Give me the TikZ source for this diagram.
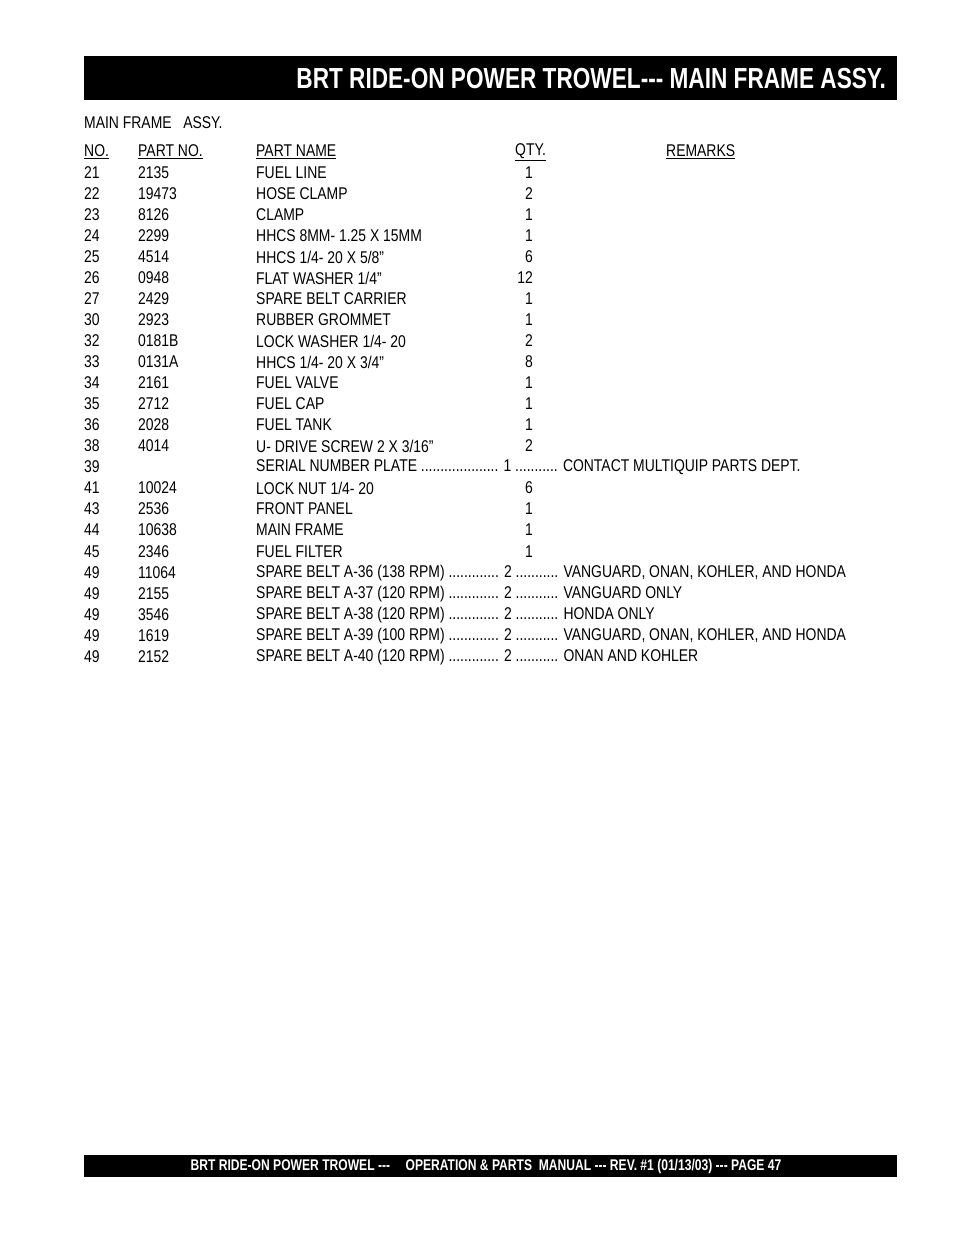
\documentclass[tikz,border=0pt]{standalone}
\usepackage{fontspec}
\setmainfont{Liberation Sans}[FakeStretch=0.82]
\newfontfamily\boldc{Liberation Sans}[FakeStretch=0.78,UprightFont=* Bold]
\newcounter{rw}
\newcommand{\prow}[5]{%
\stepcounter{rw}%
\node[txt] (n\therw) at (84,#1) {#2};
\node[txt] (p\therw) at (138,#1) {#3};
\node[txt] (m\therw) at (256,#1) {#4};
\node[txt,anchor=east] (q\therw) at (533,#1) {#5};}
\begin{document}
\begin{tikzpicture}[x=1pt,y=-1pt,txt/.style={anchor=west,inner sep=0pt,font=\fontsize{17}{17}\selectfont}]
\useasboundingbox (0,0) rectangle (954,1235);
\fill[black] (84,56) rectangle (897,100);
\node[text=white,anchor=east,inner sep=0pt,font=\boldc\fontsize{29}{29}\selectfont] (title) at (886,79) {BRT RIDE-ON POWER TROWEL--- MAIN FRAME ASSY.};
\fill[black] (84,1155) rectangle (897,1177);
\node[text=white,inner sep=0pt,font=\boldc\fontsize{15.5}{16}\selectfont] (foot) at (486,1166) {BRT RIDE-ON POWER TROWEL ---\quad OPERATION \& PARTS\ \ MANUAL --- REV. \#1 (01/13/03) --- PAGE 47};
\node[txt] (sub) at (84,123) {MAIN FRAME\ \ \ ASSY.};
\node[txt] (h1) at (84,152) {\underline{NO.}};
\node[txt] (h2) at (138,152) {\underline{PART NO.}};
\node[txt] (h3) at (256,152) {\underline{PART NAME}};
\node[txt] (h4) at (515,152) {\underline{QTY.}};
\node[txt] (h5) at (666,152) {\underline{REMARKS}};
\prow{173}{21}{2135}{FUEL LINE}{1}
\prow{194}{22}{19473}{HOSE CLAMP}{2}
\prow{215}{23}{8126}{CLAMP}{1}
\prow{236}{24}{2299}{HHCS 8MM- 1.25 X 15MM}{1}
\prow{257}{25}{4514}{HHCS 1/4- 20 X 5/8”}{6}
\prow{278}{26}{0948}{FLAT WASHER 1/4”}{12}
\prow{299}{27}{2429}{SPARE BELT CARRIER}{1}
\prow{320}{30}{2923}{RUBBER GROMMET}{1}
\prow{341}{32}{0181B}{LOCK WASHER 1/4- 20}{2}
\prow{362}{33}{0131A}{HHCS 1/4- 20 X 3/4”}{8}
\prow{383}{34}{2161}{FUEL VALVE}{1}
\prow{404}{35}{2712}{FUEL CAP}{1}
\prow{425}{36}{2028}{FUEL TANK}{1}
\prow{446}{38}{4014}{U- DRIVE SCREW 2 X 3/16”}{2}
\prow{467}{39}{}{SERIAL NUMBER PLATE .................... 1 ........... CONTACT MULTIQUIP PARTS DEPT.}{}
\prow{488}{41}{10024}{LOCK NUT 1/4- 20}{6}
\prow{509}{43}{2536}{FRONT PANEL}{1}
\prow{530}{44}{10638}{MAIN FRAME}{1}
\prow{552}{45}{2346}{FUEL FILTER}{1}
\prow{573}{49}{11064}{SPARE BELT A-36 (138 RPM) ............. 2 ........... VANGUARD, ONAN, KOHLER, AND HONDA}{}
\prow{594}{49}{2155}{SPARE BELT A-37 (120 RPM) ............. 2 ........... VANGUARD ONLY}{}
\prow{615}{49}{3546}{SPARE BELT A-38 (120 RPM) ............. 2 ........... HONDA ONLY}{}
\prow{636}{49}{1619}{SPARE BELT A-39 (100 RPM) ............. 2 ........... VANGUARD, ONAN, KOHLER, AND HONDA}{}
\prow{657}{49}{2152}{SPARE BELT A-40 (120 RPM) ............. 2 ........... ONAN AND KOHLER}{}
\end{tikzpicture}
\end{document}
